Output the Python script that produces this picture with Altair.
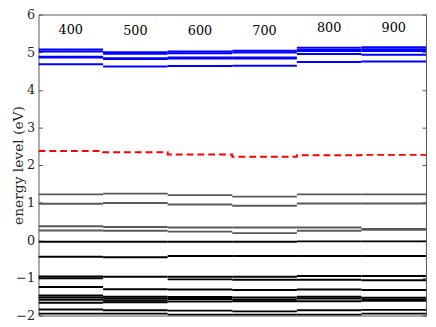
import altair as alt
import pandas as pd

# wavelength (nm) of each panel segment
centers = [400, 500, 600, 700, 800, 900]
label_y = [5.59, 5.55, 5.55, 5.56, 5.64, 5.64]

blue_levels = [
    [5.07, 5.02, 4.88, 4.86, 4.68],
    [5.00, 4.96, 4.84, 4.82, 4.62],
    [5.02, 4.97, 4.86, 4.83, 4.63],
    [5.04, 4.99, 4.86, 4.83, 4.64],
    [5.12, 5.07, 5.03, 4.95, 4.74],
    [5.13, 5.08, 5.03, 4.93, 4.75],
]
red_levels = [2.37, 2.34, 2.28, 2.22, 2.26, 2.27]
gray_levels = [
    [1.22, 0.97, 0.37, 0.26],
    [1.24, 0.99, 0.35, 0.25],
    [1.20, 0.95, 0.34, 0.23],
    [1.16, 0.92, 0.34, 0.19],
    [1.22, 0.98, 0.34, 0.25],
    [1.22, 0.98, 0.30, 0.28],
]
black_levels = [
    [-0.04, -0.44, -0.96, -1.01, -1.24, -1.47, -1.52, -1.58, -1.66, -1.84, -1.95],
    [-0.04, -0.45, -0.97, -1.30, -1.50, -1.55, -1.60, -1.65, -1.86, -1.95],
    [-0.04, -0.42, -0.97, -1.04, -1.31, -1.51, -1.56, -1.63, -1.87, -1.98],
    [-0.04, -0.42, -0.97, -1.05, -1.32, -1.52, -1.58, -1.62, -1.89, -1.98],
    [-0.03, -0.42, -0.95, -1.05, -1.31, -1.50, -1.55, -1.62, -1.86, -1.98],
    [-0.03, -0.42, -0.95, -1.06, -1.32, -1.53, -1.58, -1.61, -1.85, -1.95],
]
y_ticks = [-2, -1, 0, 1, 2, 3, 4, 5, 6]

half = 50
rows = []
for c, bl, gl, kl in zip(centers, blue_levels, gray_levels, black_levels):
    for v in bl:
        rows.append({"x": c - half, "x2": c + half, "y": v, "col": "#0000ff"})
    for v in gl:
        rows.append({"x": c - half, "x2": c + half, "y": v, "col": "#595959"})
    for v in kl:
        rows.append({"x": c - half, "x2": c + half, "y": v, "col": "#000000"})
levels = pd.DataFrame(rows)

red_rows = []
i = 0
for c, v in zip(centers, red_levels):
    red_rows.append({"x": c - half, "y": v, "o": i}); i += 1
    red_rows.append({"x": c + half, "y": v, "o": i}); i += 1
red = pd.DataFrame(red_rows)

labels = pd.DataFrame({"x": centers, "y": label_y, "t": [str(c) for c in centers]})

FONT = "DejaVu Serif"
xs = alt.Scale(domain=[350, 950], nice=False, zero=False)
ys = alt.Scale(domain=[-2, 6], nice=False, zero=False)

left_axis = alt.Axis(
    values=y_ticks, orient="left", offset=-4, tickSize=4, domain=False, grid=False,
    labelFont=FONT, labelFontSize=13, labelColor="#262626", labelPadding=4,
    tickColor="#555555", title="energy level (eV)", titleFont=FONT,
    titleFontSize=14, titleFontWeight="normal", titleColor="#262626",
    titleX=-31, titleBaseline="top",
)
right_axis = alt.Axis(
    values=y_ticks, orient="right", offset=-4, tickSize=4, domain=False, grid=False,
    labels=False, tickColor="#555555", title=None,
)

lines = alt.Chart(levels).mark_rule(strokeWidth=2, clip=True).encode(
    x=alt.X("x:Q", scale=xs, axis=None),
    x2="x2:Q",
    y=alt.Y("y:Q", scale=ys, axis=left_axis),
    color=alt.Color("col:N", scale=None),
)

redline = alt.Chart(red).mark_line(
    color="#ff0000", strokeWidth=2, strokeDash=[7, 4], clip=True
).encode(
    x=alt.X("x:Q", scale=xs, axis=None),
    y=alt.Y("y:Q", scale=ys, axis=right_axis),
    order="o:Q",
)

text = alt.Chart(labels).mark_text(
    font=FONT, fontSize=13, color="#000000", baseline="middle", align="center"
).encode(
    x=alt.X("x:Q", scale=xs, axis=None),
    y=alt.Y("y:Q", scale=ys, axis=None),
    text="t:N",
)

chart = alt.layer(lines, redline, text).resolve_axis(y="independent").properties(
    width=394, height=306,
    padding={"left": 31, "top": 4, "right": 2, "bottom": 6},
    autosize=alt.AutoSizeParams(type="none"),
    background="white",
).configure_view(stroke="#555555", strokeWidth=1)

chart.save("out.html", embed_options={"renderer": "svg", "actions": False})
